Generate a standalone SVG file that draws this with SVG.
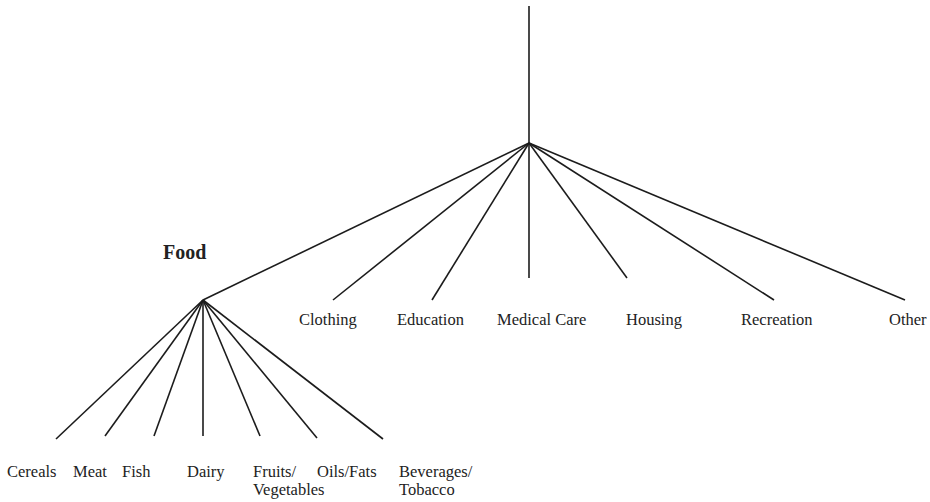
<svg xmlns="http://www.w3.org/2000/svg" width="930" height="502" viewBox="0 0 930 502">
<style>
.e{stroke:#1c1c1c;stroke-width:1.6;fill:none;stroke-linecap:butt}
.t{font-family:"Liberation Serif","Times New Roman",serif;font-size:16.5px;fill:#222}
.b{font-family:"Liberation Serif","Times New Roman",serif;font-size:20px;font-weight:bold;fill:#222}
</style>
<rect width="930" height="502" fill="#fff"/>
<g id="connectors">
<line class="e" x1="529" y1="6" x2="529" y2="143"/>
<line class="e" x1="529" y1="143" x2="203" y2="300"/>
<line class="e" x1="529" y1="143" x2="333" y2="300"/>
<line class="e" x1="529" y1="143" x2="432" y2="300"/>
<line class="e" x1="529" y1="143" x2="529" y2="278"/>
<line class="e" x1="529" y1="143" x2="627" y2="278"/>
<line class="e" x1="529" y1="143" x2="774" y2="300"/>
<line class="e" x1="529" y1="143" x2="905" y2="300"/>
<line class="e" x1="203" y1="300" x2="56" y2="439"/>
<line class="e" x1="203" y1="300" x2="105" y2="436"/>
<line class="e" x1="203" y1="300" x2="154" y2="436"/>
<line class="e" x1="203" y1="300" x2="203" y2="436"/>
<line class="e" x1="203" y1="300" x2="260" y2="436"/>
<line class="e" x1="203" y1="300" x2="317" y2="438"/>
<line class="e" x1="203" y1="300" x2="383" y2="439"/>
</g>
<g id="food"><text class="b" x="163" y="259">Food</text></g>
<g id="clothing"><text class="t" x="299" y="325">Clothing</text></g>
<g id="education"><text class="t" x="397" y="325">Education</text></g>
<g id="medical-care"><text class="t" x="497" y="325">Medical Care</text></g>
<g id="housing"><text class="t" x="626" y="325">Housing</text></g>
<g id="recreation"><text class="t" x="741" y="325">Recreation</text></g>
<g id="other"><text class="t" x="889" y="325">Other</text></g>
<g id="cereals"><text class="t" x="7" y="477">Cereals</text></g>
<g id="meat"><text class="t" x="73" y="477">Meat</text></g>
<g id="fish"><text class="t" x="122" y="477">Fish</text></g>
<g id="dairy"><text class="t" x="187" y="477">Dairy</text></g>
<g id="fruits-vegetables"><text class="t" x="253" y="477">Fruits/</text><text class="t" x="253" y="495">Vegetables</text></g>
<g id="oils-fats"><text class="t" x="317" y="477">Oils/Fats</text></g>
<g id="beverages-tobacco"><text class="t" x="399" y="477">Beverages/</text><text class="t" x="399" y="495">Tobacco</text></g>
</svg>
